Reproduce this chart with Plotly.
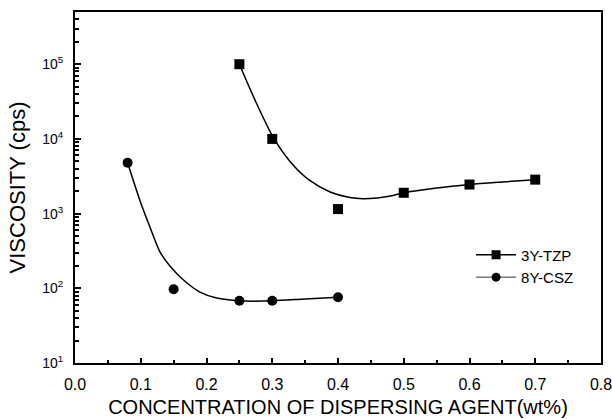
import plotly.graph_objects as go

# Measured data points
tzp_x = [0.25, 0.30, 0.40, 0.50, 0.60, 0.70]
tzp_y = [1.0e5, 1.0e4, 1.15e3, 1.9e3, 2.45e3, 2.85e3]
csz_x = [0.08, 0.15, 0.25, 0.30, 0.40]
csz_y = [4.8e3, 97, 68, 68, 76]

# Fitted curves
tzp_fit_x = [0.25, 0.276, 0.302, 0.327, 0.357, 0.388, 0.418, 0.438, 0.46, 0.48, 0.50, 0.55, 0.60, 0.65, 0.70]
tzp_fit_y = [1.0e5, 3.0e4, 1.03e4, 5.0e3, 2.78e3, 1.95e3, 1.64e3, 1.58e3, 1.62e3, 1.72e3, 1.9e3, 2.2e3, 2.45e3, 2.65e3, 2.85e3]
csz_fit_x = [0.08, 0.099, 0.114, 0.129, 0.144, 0.165, 0.19, 0.2155, 0.25, 0.30, 0.35, 0.40]
csz_fit_y = [4.8e3, 1.48e3, 660, 310, 200, 129, 89, 74, 68, 68, 72, 76]

x_ticks = [0.0, 0.1, 0.2, 0.3, 0.4, 0.5, 0.6, 0.7, 0.8]
x_minor = [0.05, 0.15, 0.25, 0.35, 0.45, 0.55, 0.65, 0.75]
y_ticks = [10, 100, 1000, 10000, 100000]
y_labels = ["10<sup>1</sup>", "10<sup>2</sup>", "10<sup>3</sup>", "10<sup>4</sup>", "10<sup>5</sup>"]
y_minor = [m * d for d in [10, 100, 1000, 10000, 100000] for m in range(2, 10) if m * d <= 5e5]

fig = go.Figure()
fig.add_trace(go.Scatter(x=tzp_fit_x, y=tzp_fit_y, mode="lines",
                         line=dict(color="black", width=1.5, shape="spline", smoothing=0.8),
                         showlegend=False, hoverinfo="skip"))
fig.add_trace(go.Scatter(x=csz_fit_x, y=csz_fit_y, mode="lines",
                         line=dict(color="black", width=1.5, shape="spline", smoothing=0.8),
                         showlegend=False, hoverinfo="skip"))
fig.add_trace(go.Scatter(x=tzp_x, y=tzp_y, mode="markers", showlegend=False,
                         marker=dict(symbol="square", size=10, color="black")))
fig.add_trace(go.Scatter(x=csz_x, y=csz_y, mode="markers", showlegend=False,
                         marker=dict(symbol="circle", size=10, color="black")))
# legend entries (line + marker)
fig.add_trace(go.Scatter(x=[None], y=[None], mode="lines+markers", name="3Y-TZP",
                         line=dict(color="black", width=1.5), marker=dict(symbol="square", size=9, color="black")))
fig.add_trace(go.Scatter(x=[None], y=[None], mode="lines+markers", name="8Y-CSZ",
                         line=dict(color="black", width=0.8), marker=dict(symbol="circle", size=9, color="black")))

font = dict(family="Liberation Sans, Arial, sans-serif", color="black")

fig.update_layout(
    width=612, height=419,
    margin=dict(l=75, r=11, t=12, b=56),
    paper_bgcolor="white", plot_bgcolor="white",
    font=dict(**font, size=12),
    legend=dict(x=0.753, y=0.355, xanchor="left", yanchor="top", bgcolor="rgba(0,0,0,0)",
                font=dict(**font, size=15), itemwidth=40, tracegroupgap=0),
    xaxis=dict(range=[0, 0.8], tickvals=x_ticks, ticktext=[f"{v:.1f}" for v in x_ticks],
               ticks="inside", ticklen=5, tickwidth=2, tickcolor="black", ticklabelstandoff=6,
               ticklabeloverflow="allow",
               minor=dict(tickvals=x_minor, ticks="inside", ticklen=3, tickwidth=2, tickcolor="black"),
               showline=True, linewidth=2, linecolor="black", mirror=True, showgrid=False, zeroline=False,
               automargin=False,
               title=dict(text="CONCENTRATION OF DISPERSING AGENT(wt%)", font=dict(**font, size=20), standoff=8),
               tickfont=dict(**font, size=16)),
    yaxis=dict(type="log", range=[1, 5.699], tickvals=y_ticks, ticktext=y_labels,
               ticks="inside", ticklen=6, tickwidth=2, tickcolor="black", ticklabelstandoff=7,
               ticklabeloverflow="allow",
               minor=dict(tickvals=y_minor, ticks="inside", ticklen=4, tickwidth=1.5, tickcolor="black"),
               showline=True, linewidth=2, linecolor="black", mirror=True, showgrid=False, zeroline=False,
               automargin=False,
               title=dict(text="VISCOSITY (cps)", font=dict(**font, size=22), standoff=10),
               tickfont=dict(**font, size=14)),
)

fig.write_html("out.html")
